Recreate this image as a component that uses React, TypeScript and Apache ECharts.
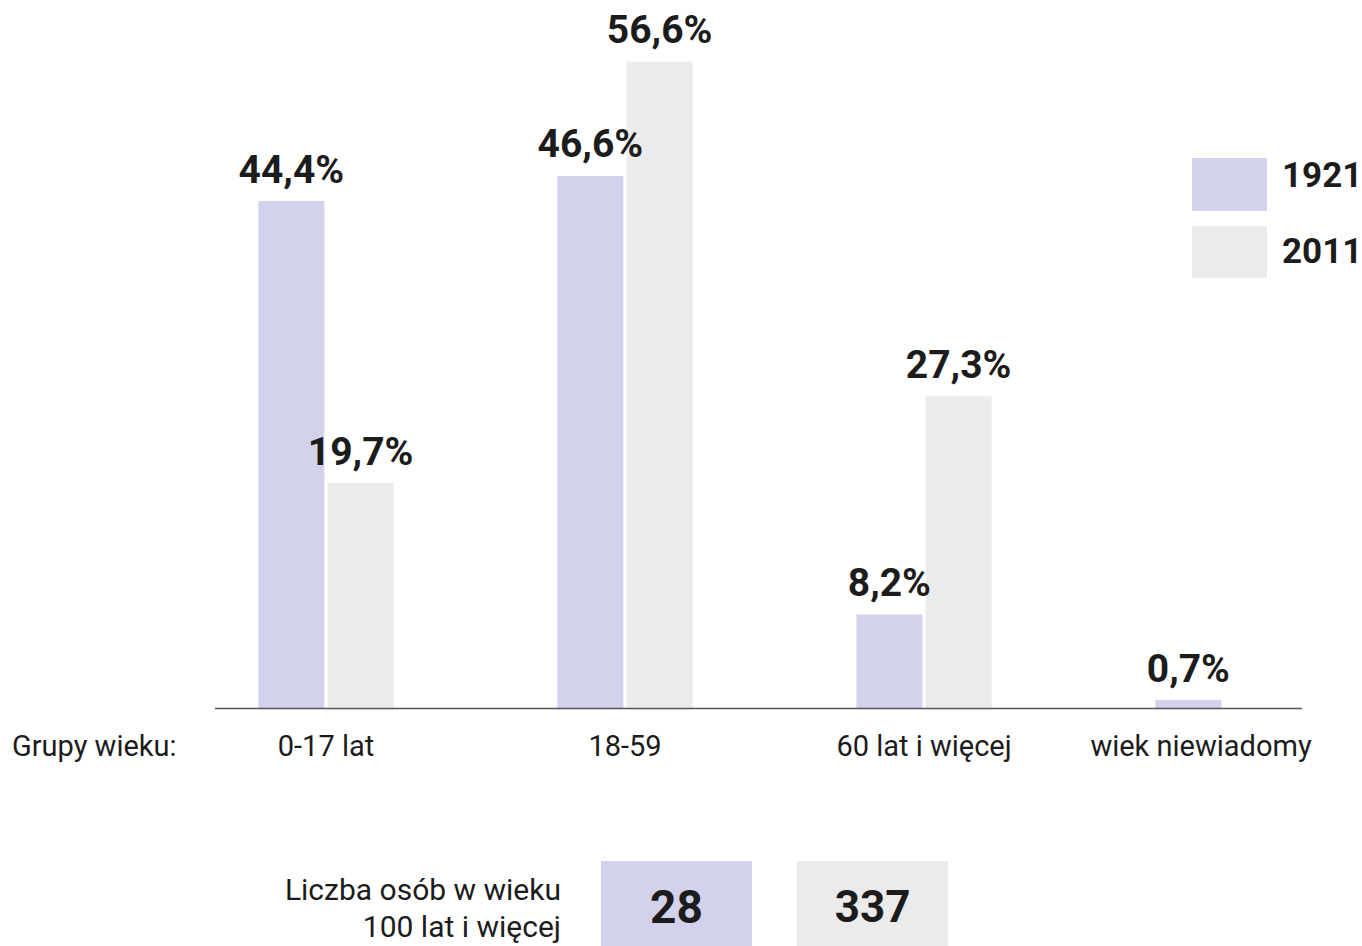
import React, { useEffect, useRef } from "react";
import * as echarts from "echarts";

const categories = ["0-17 lat", "18-59", "60 lat i więcej", "wiek niewiadomy"];
const seriesNames = ["1921", "2011"];
const values1921 = [44.4, 46.6, 8.2, 0.7];
const values2011: (number | null)[] = [19.7, 56.6, 27.3, null];
const centenarians = [28, 337];
const axisTitle = "Grupy wieku:";
const centenarianLabel = "Liczba osób w wieku\n100 lat i więcej";

const PURPLE = "#d2d2ec";
const GREY = "#ebebeb";
const TEXT = "#1c1c1c";
const FONT = "Roboto, 'Liberation Sans', sans-serif";

const fmt = (v: number) => v.toFixed(1).replace(".", ",") + "%";

export default function App() {
  const ref = useRef<HTMLDivElement>(null);
  useEffect(() => {
    if (!ref.current) return;
    const chart = echarts.init(ref.current, null, { renderer: "svg" });
    const barLabel = {
      show: true,
      position: "top",
      distance: 12,
      fontFamily: FONT,
      fontWeight: "bold",
      fontSize: 39,
      color: TEXT,
      formatter: (p: any) => (p.value == null ? "" : fmt(p.value)),
    };
    const legendColors = [PURPLE, GREY];
    const legendRects = [
      { y: 158, h: 53, ty: 175 },
      { y: 226, h: 52, ty: 251 },
    ];
    const legendGraphics: any[] = [];
    seriesNames.forEach((name, i) => {
      legendGraphics.push({
        type: "rect",
        shape: { x: 1192, y: legendRects[i].y, width: 75, height: legendRects[i].h },
        style: { fill: legendColors[i] },
      });
      legendGraphics.push({
        type: "text",
        x: 1282,
        y: legendRects[i].ty,
        style: {
          text: name,
          font: `bold 35px ${FONT}`,
          fill: TEXT,
          align: "left",
          verticalAlign: "middle",
        },
      });
    });
    chart.setOption({
      animation: false,
      textStyle: { fontFamily: FONT },
      grid: { left: 176.5, width: 1196, top: 23, bottom: 238, outerBoundsMode: "none", containLabel: false },
      xAxis: {
        type: "category",
        data: categories,
        axisLine: { show: false },
        axisTick: { show: false },
        axisLabel: {
          interval: 0,
          hideOverlap: false,
          margin: 23,
          fontFamily: FONT,
          fontSize: 29,
          color: TEXT,
          formatter: (v: string, i: number) => (i === 3 ? `{shift|${v}}` : `{n|${v}}`),
          rich: {
            n: { fontFamily: FONT, fontSize: 29, color: TEXT },
            shift: { fontFamily: FONT, fontSize: 29, color: TEXT, padding: [0, 44, 0, 0] },
          },
        },
      },
      yAxis: {
        type: "value",
        min: 0,
        max: 60,
        show: false,
        splitLine: { show: false },
      },
      series: [
        {
          name: seriesNames[0],
          type: "bar",
          data: values1921,
          barWidth: 66,
          barGap: "5%",
          itemStyle: { color: PURPLE },
          label: barLabel,
        },
        {
          name: seriesNames[1],
          type: "bar",
          data: values2011,
          barWidth: 66,
          itemStyle: { color: GREY },
          label: barLabel,
        },
      ],
      graphic: [
        ...legendGraphics,
        {
          type: "line",
          shape: { x1: 215, y1: 708.5, x2: 1302, y2: 708.5 },
          style: { stroke: "#555", lineWidth: 1.5 },
          z: 10,
        },
        {
          type: "text",
          x: 12,
          y: 746,
          style: {
            text: axisTitle,
            font: `29px ${FONT}`,
            fill: TEXT,
            verticalAlign: "middle",
            align: "left",
          },
        },
        {
          type: "text",
          x: 561,
          y: 908,
          style: {
            text: centenarianLabel,
            font: `30px ${FONT}`,
            lineHeight: 37,
            fill: TEXT,
            align: "right",
            verticalAlign: "middle",
          },
        },
        {
          type: "rect",
          shape: { x: 601, y: 861, width: 151, height: 90 },
          style: { fill: PURPLE },
        },
        {
          type: "rect",
          shape: { x: 797, y: 861, width: 151, height: 90 },
          style: { fill: GREY },
        },
        {
          type: "text",
          x: 676.5,
          y: 907,
          style: {
            text: String(centenarians[0]),
            font: `bold 46px ${FONT}`,
            fill: TEXT,
            align: "center",
            verticalAlign: "middle",
          },
        },
        {
          type: "text",
          x: 872.5,
          y: 907,
          style: {
            text: String(centenarians[1]),
            font: `bold 44px ${FONT}`,
            fill: TEXT,
            align: "center",
            verticalAlign: "middle",
          },
        },
      ],
    });
    return () => chart.dispose();
  }, []);
  return (
    <div
      ref={ref}
      style={{ position: "fixed", left: 0, top: 0, width: 1362, height: 946, background: "#fff" }}
    />
  );
}
